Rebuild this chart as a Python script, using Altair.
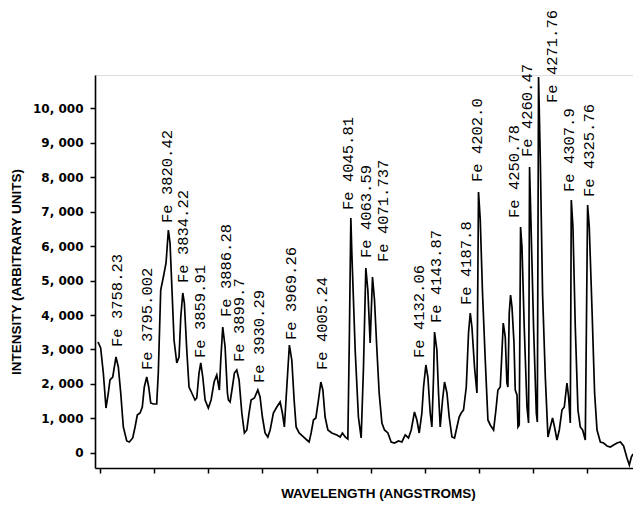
import altair as alt
import pandas as pd

# Spectrum trace (wavelength in Angstroms, intensity in arbitrary units)
wavelength = [
    3737.0, 3738.0, 3740.8, 3744.0, 3747.2, 3750.0, 3752.0, 3755.3, 3759.2, 3762.0,
    3764.9, 3768.0, 3772.1, 3775.2, 3779.3, 3782.1, 3784.8, 3788.1, 3790.8, 3793.2,
    3796.1, 3798.5, 3800.9, 3804.0, 3808.1, 3810.0, 3812.9, 3816.1, 3819.3, 3822.1,
    3824.1, 3826.1, 3828.9, 3832.2, 3834.9, 3837.0, 3839.4, 3841.3, 3844.2, 3846.9,
    3850.2, 3854.1, 3856.2, 3858.9, 3861.0, 3863.4, 3866.2, 3870.1, 3873.4, 3877.0,
    3880.2, 3883.3, 3885.0, 3887.4, 3890.2, 3893.0, 3894.2, 3896.2, 3899.0, 3901.4,
    3904.2, 3907.0, 3910.3, 3913.4, 3916.3, 3919.0, 3921.4, 3925.4, 3929.5, 3932.2,
    3935.0, 3938.2, 3941.5, 3944.3, 3948.2, 3952.3, 3956.3, 3959.0, 3961.4, 3964.3,
    3967.4, 3970.3, 3973.1, 3975.5, 3979.1, 3984.3, 3988.4, 3991.1, 3993.5, 3996.3,
    3999.2, 4002.3, 4005.2, 4007.6, 4010.3, 4013.6, 4018.4, 4024.4, 4028.4, 4031.1,
    4034.4, 4037.6, 4039.5, 4041.2, 4042.4, 4046.4, 4050.3, 4053.6, 4056.4, 4059.2,
    4061.6, 4064.4, 4067.2, 4069.6, 4072.5, 4075.2, 4078.5, 4081.6, 4085.7, 4089.6,
    4093.6, 4098.4, 4102.5, 4106.5, 4110.4, 4113.7, 4117.6, 4120.5, 4123.3, 4126.5,
    4128.5, 4131.3, 4133.7, 4136.5, 4138.5, 4140.5, 4141.7, 4144.5, 4146.5, 4148.5,
    4151.3, 4153.7, 4156.6, 4159.3, 4162.6, 4165.7, 4168.6, 4171.3, 4173.7, 4176.5,
    4179.8, 4182.5, 4184.6, 4186.6, 4189.7, 4192.6, 4194.5, 4196.6, 4199.3, 4202.6,
    4205.8, 4208.6, 4212.6, 4215.4, 4217.8, 4220.6, 4222.6, 4224.2, 4226.6, 4228.6,
    4229.8, 4231.4, 4233.0, 4234.7, 4237.1, 4238.6, 4240.7, 4241.9, 4243.4, 4245.0,
    4246.7, 4249.4, 4252.7, 4254.6, 4255.8, 4257.8, 4260.6, 4263.9, 4265.1, 4266.6,
    4268.7, 4271.4, 4274.7, 4277.9, 4280.7, 4283.4, 4285.8, 4288.7, 4291.5, 4294.7,
    4297.5, 4300.7, 4302.7, 4304.7, 4305.9, 4307.9, 4310.7, 4313.9, 4316.7, 4319.5,
    4322.7, 4325.5, 4327.5, 4330.8, 4333.9, 4336.8, 4340.8, 4344.7, 4348.8, 4352.8,
    4356.7, 4360.8, 4364.8, 4368.7, 4372.8, 4375.6, 4378.0, 4380.0,
]
intensity = [
    3200, 3197, 3044, 2319, 1304, 1739, 2116, 2203, 2783, 2493,
    1739, 754, 348, 319, 435, 754, 1101, 1159, 1333, 1913,
    2203, 1913, 1449, 1420, 1420, 2319, 4725, 5102, 5507, 6464,
    6087, 4928, 3275, 2609, 2783, 3942, 4638, 4348, 2986, 1913,
    1739, 1536, 1594, 2319, 2609, 2203, 1536, 1304, 1536, 2058,
    2261, 1826, 2696, 3652, 3072, 1739, 1536, 1478, 1913, 2319,
    2406, 2116, 1159, 580, 667, 1159, 1536, 1594, 1826, 1623,
    1043, 580, 464, 667, 1159, 1333, 1478, 1159, 754, 1913,
    3130, 2696, 1536, 754, 580, 464, 377, 319, 580, 957,
    1015, 1536, 2058, 1826, 1043, 667, 580, 522, 464, 580,
    464, 406, 3478, 6812, 5797, 2986, 1043, 435, 2493, 5362,
    4725, 3188, 5102, 4435, 2986, 1739, 870, 667, 580, 319,
    290, 348, 319, 522, 435, 667, 1188, 957, 580, 1159,
    1913, 2551, 2203, 1159, 754, 2203, 3507, 2986, 1739, 754,
    1536, 2058, 1739, 1043, 464, 435, 754, 1043, 1159, 1246,
    1913, 3478, 4058, 3652, 2493, 1739, 7565, 6754, 4638, 2696,
    957, 812, 667, 1246, 1826, 1913, 2899, 3768, 3362, 2029,
    1913, 4058, 4580, 4232, 3188, 1826, 1681, 754, 812, 6551,
    5971, 3652, 1333, 870, 8290, 6377, 3652, 1159, 899, 10899,
    8493, 4638, 2203, 464, 754, 1015, 754, 377, 667, 1246,
    1333, 2029, 1623, 870, 7333, 6551, 3652, 1246, 754, 667,
    377, 7189, 6551, 4145, 1739, 667, 319, 290, 203, 174,
    232, 290, 319, 203, -145, -348, -116, -30,
]

# Line annotations
line_labels = [
    "Fe 3758.23", "Fe 3795.002", "Fe 3820.42", "Fe 3834.22", "Fe 3859.91",
    "Fe 3886.28", "Fe 3899.7", "Fe 3930.29", "Fe 3969.26", "Fe 4005.24",
    "Fe 4045.81", "Fe 4063.59", "Fe 4071.737", "Fe 4132.06", "Fe 4143.87",
    "Fe 4187.8", "Fe 4202.0", "Fe 4250.78", "Fe 4260.47", "Fe 4271.76",
    "Fe 4307.9", "Fe 4325.76",
]
label_x = [
    3760.4, 3796.5, 3820.5, 3839.7, 3860.2,
    3891.4, 3907.0, 3931.0, 3969.5, 4006.7,
    4038.0, 4059.6, 4080.0, 4123.3, 4143.7,
    4179.8, 4193.0, 4237.4, 4253.0, 4283.1,
    4303.5, 4327.5,
]
label_y = [
    3073, 2406, 6667, 4928, 2754,
    3942, 2638, 2029, 3275, 2406,
    7044, 5652, 5536, 2754, 3768,
    4290, 7855, 6812, 8580, 10145,
    7565, 7420,
]

x_ticks = [3740, 3805, 3870, 3935, 4000, 4065, 4130, 4195, 4260, 4325]
y_ticks = [0, 1000, 2000, 3000, 4000, 5000, 6000, 7000, 8000, 9000, 10000]

spec = pd.DataFrame({"wavelength": wavelength, "intensity": intensity})
labels = pd.DataFrame({"label": line_labels, "x": label_x, "y": label_y})

x_scale = alt.Scale(domain=[3734, 4380], nice=False, zero=False)
y_scale = alt.Scale(domain=[-435, 10957], nice=False, zero=False)

x_axis = alt.Axis(
    title="WAVELENGTH (ANGSTROMS)",
    values=x_ticks,
    labels=False,
    grid=False,
    ticks=True,
    tickSize=5,
    tickWidth=1.5,
    tickColor="black",
    domainColor="black",
    domainWidth=1.6,
    titleFont="Liberation Sans",
    titleFontWeight="bold",
    titleFontSize=13.5,
    titleColor="black",
    titlePadding=13,
    titleX=283,
    titleAlign="center",
)
y_axis = alt.Axis(
    title="INTENSITY (ARBITRARY UNITS)",
    values=y_ticks,
    grid=False,
    tickSize=5,
    tickWidth=1.5,
    tickColor="black",
    domainColor="black",
    domainWidth=1.6,
    labelFont="DejaVu Sans",
    labelFontWeight="bold",
    labelFontSize=12,
    labelColor="black",
    labelPadding=7,
    labelOverlap=False,
    labelExpr="replace(format(datum.value, ','), ',', ', ')",
    titleFont="Liberation Sans",
    titleFontWeight="bold",
    titleFontSize=13.5,
    titleColor="black",
    titlePadding=9,
)

line = alt.Chart(spec).mark_line(color="black", strokeWidth=1.7, clip=True).encode(
    x=alt.X("wavelength:Q", scale=x_scale, axis=x_axis),
    y=alt.Y("intensity:Q", scale=y_scale, axis=y_axis),
)

text = alt.Chart(labels).mark_text(
    angle=270,
    align="left",
    baseline="middle",
    font="Liberation Mono",
    fontSize=15.5,
    color="black",
).encode(
    x=alt.X("x:Q", scale=x_scale, axis=x_axis),
    y=alt.Y("y:Q", scale=y_scale, axis=y_axis),
    text="label:N",
)

chart = (
    alt.layer(line, text)
    .properties(
        width=538,
        height=393,
        autosize=alt.AutoSizeParams(type="none"),
        padding={"left": 87, "top": 67, "right": 0, "bottom": 33},
    )
    .configure_view(stroke=None)
    .configure(background="white")
)

chart.save("out.html", embed_options={"renderer": "svg", "actions": False})
